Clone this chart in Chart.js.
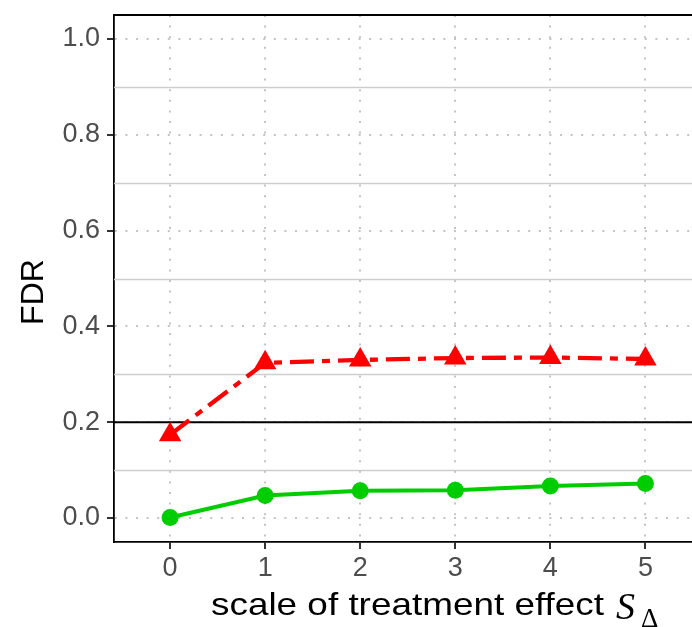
<!DOCTYPE html>
<html><head><meta charset="utf-8">
<script src="https://cdn.jsdelivr.net/npm/chart.js@4.4.0/dist/chart.umd.min.js"></script>
<style>html,body{margin:0;padding:0;background:#fff}#wrap{width:692px;height:627px}</style>
</head><body><div id="wrap"><canvas id="c" width="692" height="627"></canvas></div>
<script>
const xValues = [0, 1, 2, 3, 4, 5];
const fdrRed = [0.174, 0.324, 0.330, 0.334, 0.335, 0.332];
const fdrGreen = [0.001, 0.047, 0.057, 0.058, 0.067, 0.072];
const yTicks = [0, 0.2, 0.4, 0.6, 0.8, 1.0];
const yMinor = [0.1, 0.3, 0.5, 0.7, 0.9];
const targetFDR = 0.2;
const yTitle = 'FDR';
const xTitle = 'scale of treatment effect';
const xTitleSym = 'S';
const xTitleSub = 'Δ';

const SANS = '"Liberation Sans", Arial, Helvetica, sans-serif';
const SERIF = '"Liberation Serif", "Times New Roman", serif';

const extras = {
  id: 'extras',
  beforeDatasetsDraw(chart) {
    const {ctx, chartArea: a, scales: {y}} = chart;
    ctx.save();
    ctx.strokeStyle = '#CDCDCD';
    ctx.lineWidth = 1.3;
    yMinor.forEach(v => {
      const py = Math.round(y.getPixelForValue(v)) + 0.5;
      ctx.beginPath(); ctx.moveTo(a.left, py); ctx.lineTo(a.right, py); ctx.stroke();
    });
    const ry = y.getPixelForValue(targetFDR);
    ctx.strokeStyle = '#000'; ctx.lineWidth = 2.2;
    ctx.beginPath(); ctx.moveTo(a.left, ry); ctx.lineTo(a.right, ry); ctx.stroke();
    ctx.lineWidth = 1.8;
    ctx.beginPath(); ctx.moveTo(a.left, a.top); ctx.lineTo(a.right, a.top); ctx.stroke();
    ctx.restore();
  },
  afterDraw(chart) {
    const {ctx} = chart;
    ctx.save();
    ctx.fillStyle = '#000';
    ctx.translate(34, 292);
    ctx.rotate(-Math.PI / 2);
    ctx.font = '32px ' + SANS;
    ctx.textAlign = 'center';
    ctx.textBaseline = 'middle';
    ctx.fillText(yTitle, 0, 0);
    ctx.restore();
    ctx.save();
    ctx.fillStyle = '#000';
    ctx.font = '32px ' + SANS;
    ctx.textAlign = 'left';
    ctx.textBaseline = 'alphabetic';
    const w = ctx.measureText(xTitle).width;
    const target = 393;
    ctx.translate(211, 615);
    ctx.scale(target / w, 1);
    ctx.fillText(xTitle, 0, 0);
    ctx.restore();
    ctx.save();
    ctx.fillStyle = '#000';
    ctx.font = 'italic 38px ' + SERIF;
    ctx.fillText(xTitleSym, 616, 619);
    ctx.font = '27px ' + SERIF;
    ctx.fillText(xTitleSub, 641, 627);
    ctx.restore();
  }
};

const tickFont = {family: SANS, size: 27};
const noPad = s => { s.paddingTop = 0; s.paddingBottom = 0; s.paddingLeft = 0; s.paddingRight = 0; };

new Chart(document.getElementById('c'), {
  type: 'line',
  data: {
    datasets: [
      {
        label: 'red',
        data: xValues.map((x, i) => ({x, y: fdrRed[i]})),
        borderColor: '#FF0000',
        backgroundColor: '#FF0000',
        borderWidth: 4.3,
        borderDash: [24, 8, 8, 8],
        pointStyle: 'triangle',
        pointRadius: 13,
        pointBorderWidth: 0,
        tension: 0
      },
      {
        label: 'green',
        data: xValues.map((x, i) => ({x, y: fdrGreen[i]})),
        borderColor: '#00CD00',
        backgroundColor: '#00CD00',
        borderWidth: 4,
        pointStyle: 'circle',
        pointRadius: 8.5,
        pointBorderWidth: 0,
        tension: 0
      }
    ]
  },
  options: {
    responsive: false,
    animation: false,
    devicePixelRatio: 1,
    layout: {autoPadding: false, padding: {top: 15, left: 0, right: 0, bottom: 0}},
    plugins: {legend: {display: false}, tooltip: {enabled: false}},
    scales: {
      x: {
        type: 'linear',
        min: -0.59, max: 5.49,
        afterBuildTicks: s => { s.ticks = xValues.map(v => ({value: v})); },
        afterFit: s => { s.height = 85; noPad(s); },
        ticks: {font: tickFont, color: '#4D4D4D', padding: 3, callback: v => String(v)},
        grid: {color: '#C4C4C4', lineWidth: 2, tickLength: 7, tickColor: '#333', tickWidth: 2, tickBorderDash: []},
        border: {display: true, color: '#000', width: 1.8, dash: [2, 8.6]},
        title: {display: false}
      },
      y: {
        min: -0.05, max: 1.05,
        afterBuildTicks: s => { s.ticks = yTicks.map(v => ({value: v})); },
        afterFit: s => { s.width = 114; noPad(s); },
        ticks: {font: tickFont, color: '#4D4D4D', padding: 7, callback: v => Number(v).toFixed(1)},
        grid: {color: '#C4C4C4', lineWidth: 2, tickLength: 7, tickColor: '#333', tickWidth: 2, tickBorderDash: []},
        border: {display: true, color: '#000', width: 1.8, dash: [2, 8.6]},
        title: {display: false}
      }
    }
  },
  plugins: [extras]
});
</script>
</body></html>
